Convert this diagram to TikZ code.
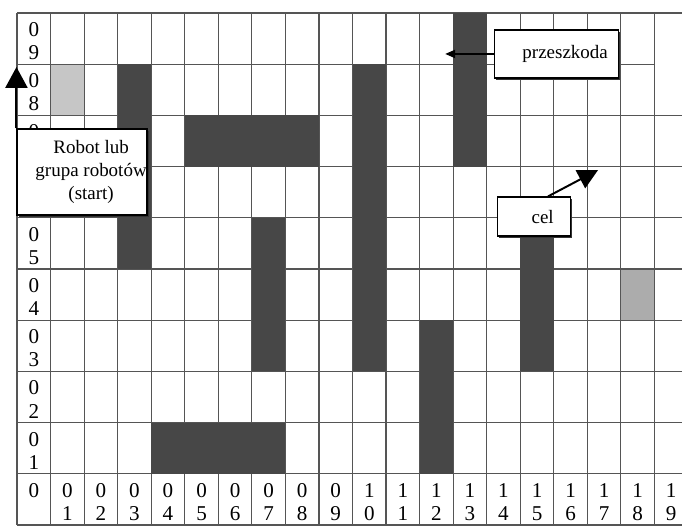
\documentclass[tikz,border=0pt]{standalone}
\usepackage{fontspec}
\setmainfont{Liberation Serif}
\usepackage{xcolor}
\usetikzlibrary{positioning, arrows.meta, shadows}

\definecolor{gridline}{HTML}{555555}
\definecolor{wall}{HTML}{474747}

\begin{document}
\begin{tikzpicture}[x=0.83875cm, y=1.28cm,
    cell/.style={minimum width=0.83875cm, minimum height=1.28cm, inner sep=0pt},
    num/.style={align=center, font=\fontsize{15}{16.5}\selectfont, inner sep=0pt},
    box/.style={rectangle, draw, line width=0.9pt, fill=white, align=center,
        font=\fontsize{13.5}{16.5}\selectfont,
        drop shadow={shadow xshift=1.1pt, shadow yshift=-1.1pt, opacity=1, fill=black!80}},
    arr/.style={line width=1.4pt, -{Triangle[width=0.55cm, length=0.52cm]}}]
    \useasboundingbox (-0.507,0) rectangle (19.821,10.254);
    \node[cell, fill=gray!45] (start) at (1.5,8.5) {};
    \node[cell, fill=gray!65] (goal) at (18.5,4.5) {};
    % grid
    \foreach \c in {0,...,19} \draw[gridline, line width=0.8pt] (\c,0) -- (\c,10);
    \foreach \r in {0,...,8,10} \draw[gridline, line width=0.8pt] (0,\r) -- (20,\r);
    \draw[gridline, line width=0.8pt] (0,9) -- (19,9);
    % obstacles
    \fill[wall] (3,5) rectangle (4,9);
    \fill[wall] (5,7) rectangle (9,8);
    \fill[wall] (10,3) rectangle (11,9);
    \fill[wall] (7,3) rectangle (8,6);
    \fill[wall] (4,1) rectangle (8,2);
    \fill[wall] (12,1) rectangle (13,4);
    \fill[wall] (13,7) rectangle (14,10);
    \fill[wall] (15,3) rectangle (16,6);
    % numbers
    \node[num] (c0) at (0.5,0.45) {0\\\phantom{0}};
    \foreach \r in {1,...,5,7,8,9} \node[num] (r\r) at (0.5,\r+0.45) {0\\\r};
    \foreach \c in {1,...,19} {
        \pgfmathtruncatemacro\hi{\c/10}
        \pgfmathtruncatemacro\lo{mod(\c,10)}
        \node[num] (c\c) at (\c+0.5,0.45) {\hi\\\lo};
    }
    % boxes
    \node[box, inner xsep=0pt, minimum width=3.25cm, minimum height=2.15cm] (robot) at (1.94,6.895)
        {\hspace*{0.45cm}Robot lub\\\hspace*{0.45cm}grupa robotów\\\hspace*{0.45cm}(start)};
    \node[box, minimum width=3.1cm, minimum height=1.2cm] (prz) at (16.07,9.2) {\hspace*{0.45cm}przeszkoda};
    \node[box, minimum width=1.825cm, minimum height=0.975cm] (cel) at (15.40,6.025) {\hspace*{0.45cm}cel};
    \coordinate (up) at (0,8.945);
    \coordinate (obst) at (12.76,9.2);
    \coordinate (celtip) at (17.32,6.934);
    \draw[arr] (robot.north west) -- (robot.north west |- up);
    \draw[line width=1.4pt, -{Triangle[width=0.2cm, length=0.25cm]}] (prz.west) -- (obst);
    \draw[line width=1.4pt, -{Triangle[width=0.5cm, length=0.5cm]}] ([xshift=0.36cm]cel.north) -- (celtip);
\end{tikzpicture}
\end{document}
